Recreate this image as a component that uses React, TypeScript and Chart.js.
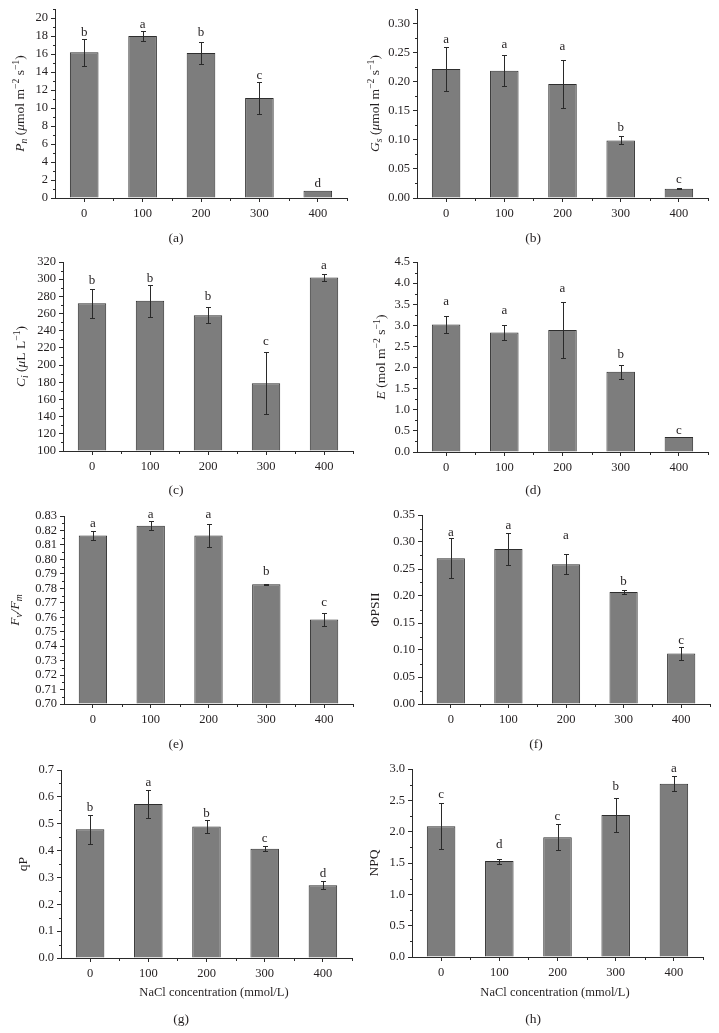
import { useEffect, useRef } from 'react';
import { Chart, registerables } from 'chart.js';

Chart.register(...registerables);

// ---------------- data ----------------
const categories = ['0', '100', '200', '300', '400'];

const pnValues = [16.2, 18.0, 16.1, 11.1, 0.8];
const pnErrors = [1.5, 0.55, 1.2, 1.8, 0];
const pnLetters = ['b', 'a', 'b', 'c', 'd'];
const pnLetterY = [18.0, 18.85, 18.0, 13.2, 1.2];
const pnTicks = [0, 2, 4, 6, 8, 10, 12, 14, 16, 18, 20];

const gsValues = [0.222, 0.219, 0.196, 0.099, 0.016];
const gsErrors = [0.038, 0.027, 0.042, 0.007, 0.001];
const gsLetters = ['a', 'a', 'a', 'b', 'c'];
const gsLetterY = [0.267, 0.258, 0.254, 0.1157, 0.0252];
const gsTicks = [0, 0.05, 0.1, 0.15, 0.2, 0.25, 0.3];

const ciValues = [272, 275, 258, 179, 302];
const ciErrors = [17, 18.5, 9.5, 36, 4.3];
const ciLetters = ['b', 'b', 'b', 'c', 'a'];
const ciLetterY = [294, 297, 276, 223, 312];
const ciTicks = [100, 120, 140, 160, 180, 200, 220, 240, 260, 280, 300, 320];

const eValues = [3.02, 2.83, 2.89, 1.9, 0.355];
const eErrors = [0.2, 0.17, 0.66, 0.17, 0];
const eLetters = ['a', 'a', 'a', 'b', 'c'];
const eLetterY = [3.47, 3.28, 3.79, 2.22, 0.42];
const eTicks = [0, 0.5, 1.0, 1.5, 2.0, 2.5, 3.0, 3.5, 4.0, 4.5];

const fvfmValues = [0.8165, 0.8232, 0.8165, 0.7828, 0.7585];
const fvfmErrors = [0.003, 0.003, 0.008, 0.0005, 0.0045];
const fvfmLetters = ['a', 'a', 'a', 'b', 'c'];
const fvfmLetterY = [0.8227, 0.8289, 0.8289, 0.789, 0.7677];
const fvfmTicks = [0.7, 0.71, 0.72, 0.73, 0.74, 0.75, 0.76, 0.77, 0.78, 0.79, 0.8, 0.81, 0.82, 0.83];

const phiValues = [0.27, 0.287, 0.259, 0.2074, 0.0937];
const phiErrors = [0.037, 0.03, 0.019, 0.004, 0.0125];
const phiLetters = ['a', 'a', 'a', 'b', 'c'];
const phiLetterY = [0.3117, 0.324, 0.3055, 0.221, 0.111];
const phiTicks = [0, 0.05, 0.1, 0.15, 0.2, 0.25, 0.3, 0.35];

const qpValues = [0.479, 0.573, 0.49, 0.407, 0.271];
const qpErrors = [0.053, 0.053, 0.023, 0.01, 0.015];
const qpLetters = ['b', 'a', 'b', 'c', 'd'];
const qpLetterY = [0.548, 0.6396, 0.526, 0.433, 0.3007];
const qpTicks = [0, 0.1, 0.2, 0.3, 0.4, 0.5, 0.6, 0.7];

const npqValues = [2.086, 1.53, 1.912, 2.267, 2.765];
const npqErrors = [0.37, 0.04, 0.21, 0.265, 0.12];
const npqLetters = ['c', 'd', 'c', 'b', 'a'];
const npqLetterY = [2.536, 1.732, 2.193, 2.659, 2.95];
const npqTicks = [0, 0.5, 1.0, 1.5, 2.0, 2.5, 3.0];

const xAxisTitle = 'NaCl concentration (mmol/L)';

// ---------------- styles ----------------
const FONT = '"Liberation Serif", "Times New Roman", serif';
const TEXT = '#231f20';
const AXIS = '#2a2a2a';
const BAR_FILL = '#7d7d7d';
const BAR_EDGE = '#2e2e2e';
const ERR = '#2a2a2a';

type Seg = { t: string; i?: boolean; b?: boolean; p?: boolean };

type PanelSpec = {
  values: number[];
  errors: number[];
  letters: string[];
  letterY: number[];
  ticks: number[];
  min: number;
  max: number;
  decimals: number;
  yTitle: Seg[];
  label: string;
  col: number;
  area: [number, number, number, number];
  yTitleX: number;
  labelPos: [number, number];
  xTitlePos?: [number, number];
};

const panels: PanelSpec[] = [
  {
    values: pnValues, errors: pnErrors, letters: pnLetters, letterY: pnLetterY, ticks: pnTicks,
    min: 0, max: 21, decimals: 0,
    yTitle: [{ t: 'P', i: true }, { t: 'n', i: true, b: true }, { t: ' (' }, { t: 'μ', i: true }, { t: 'mol m' }, { t: '−2', p: true }, { t: ' s' }, { t: '−1', p: true }, { t: ')' }],
    label: '(a)', col: 0, area: [55, 9, 347, 198], yTitleX: 20, labelPos: [176, 238],
  },
  {
    values: gsValues, errors: gsErrors, letters: gsLetters, letterY: gsLetterY, ticks: gsTicks,
    min: 0, max: 0.325, decimals: 2,
    yTitle: [{ t: 'G', i: true }, { t: 's', i: true, b: true }, { t: ' (' }, { t: 'μ', i: true }, { t: 'mol m' }, { t: '−2', p: true }, { t: ' s' }, { t: '−1', p: true }, { t: ')' }],
    label: '(b)', col: 1, area: [417, 9, 708, 198], yTitleX: 375, labelPos: [533, 238],
  },
  {
    values: ciValues, errors: ciErrors, letters: ciLetters, letterY: ciLetterY, ticks: ciTicks,
    min: 100, max: 320, decimals: 0,
    yTitle: [{ t: 'C', i: true }, { t: 'i', i: true, b: true }, { t: ' (' }, { t: 'μ', i: true }, { t: 'L L' }, { t: '−1', p: true }, { t: ')' }],
    label: '(c)', col: 0, area: [63, 262, 353, 451], yTitleX: 21, labelPos: [176, 490],
  },
  {
    values: eValues, errors: eErrors, letters: eLetters, letterY: eLetterY, ticks: eTicks,
    min: 0, max: 4.5, decimals: 1,
    yTitle: [{ t: 'E', i: true }, { t: ' (mol m' }, { t: '−2', p: true }, { t: ' s' }, { t: '−1', p: true }, { t: ')' }],
    label: '(d)', col: 1, area: [417, 262, 708, 452], yTitleX: 381, labelPos: [533, 490],
  },
  {
    values: fvfmValues, errors: fvfmErrors, letters: fvfmLetters, letterY: fvfmLetterY, ticks: fvfmTicks,
    min: 0.7, max: 0.83, decimals: 2,
    yTitle: [{ t: 'F', i: true }, { t: 'v', i: true, b: true }, { t: '/', i: true }, { t: 'F', i: true }, { t: 'm', i: true, b: true }],
    label: '(e)', col: 0, area: [64, 516, 353, 704], yTitleX: 15, labelPos: [176, 744],
  },
  {
    values: phiValues, errors: phiErrors, letters: phiLetters, letterY: phiLetterY, ticks: phiTicks,
    min: 0, max: 0.35, decimals: 2,
    yTitle: [{ t: 'ΦPSII' }],
    label: '(f)', col: 1, area: [422, 515, 710, 704], yTitleX: 375, labelPos: [536, 744],
  },
  {
    values: qpValues, errors: qpErrors, letters: qpLetters, letterY: qpLetterY, ticks: qpTicks,
    min: 0, max: 0.7, decimals: 1,
    yTitle: [{ t: 'qP' }],
    label: '(g)', col: 0, area: [61, 770, 352, 958], yTitleX: 23, labelPos: [181, 1019], xTitlePos: [214, 993],
  },
  {
    values: npqValues, errors: npqErrors, letters: npqLetters, letterY: npqLetterY, ticks: npqTicks,
    min: 0, max: 3.0, decimals: 1,
    yTitle: [{ t: 'NPQ' }],
    label: '(h)', col: 1, area: [412, 769, 703, 957], yTitleX: 374, labelPos: [533, 1019], xTitlePos: [555, 993],
  },
];

function drawRich(ctx: CanvasRenderingContext2D, segs: Seg[], cx: number, cy: number, size: number) {
  const fontFor = (s: Seg) => `${s.i ? 'italic ' : ''}${s.b || s.p ? size * 0.72 : size}px ${FONT}`;
  let total = 0;
  const widths = segs.map((s) => {
    ctx.font = fontFor(s);
    const w = ctx.measureText(s.t).width;
    total += w;
    return w;
  });
  ctx.save();
  ctx.translate(cx, cy);
  ctx.rotate(-Math.PI / 2);
  ctx.textAlign = 'left';
  ctx.textBaseline = 'alphabetic';
  ctx.fillStyle = TEXT;
  let x = -total / 2;
  const base = size * 0.33;
  segs.forEach((s, k) => {
    ctx.font = fontFor(s);
    const dy = s.p ? -size * 0.4 : s.b ? size * 0.22 : 0;
    ctx.fillText(s.t, x, base + dy);
    x += widths[k];
  });
  ctx.restore();
}

function Panel({ spec }: { spec: PanelSpec }) {
  const ref = useRef<HTMLCanvasElement | null>(null);
  const boxX = spec.col === 0 ? 0 : 360;
  const boxW = spec.col === 0 ? 360 : 359;
  const [aL, aT, aR, aB] = spec.area;
  const boxY = aT - 20;
  const boxH = spec.labelPos[1] + 14 - boxY;

  useEffect(() => {
    if (!ref.current) return;
    const annot = {
      id: 'annot' + spec.label,
      afterDatasetsDraw(chart: any) {
        const ctx: CanvasRenderingContext2D = chart.ctx;
        const xs = chart.scales.x;
        const ys = chart.scales.y;
        ctx.save();
        // error bars
        ctx.strokeStyle = ERR;
        ctx.lineWidth = 1;
        spec.values.forEach((v, i) => {
          const e = spec.errors[i];
          if (!e) return;
          const px = Math.round(xs.getPixelForValue(i)) + 0.5;
          const yt = Math.round(ys.getPixelForValue(v + e)) + 0.5;
          const yb = Math.round(ys.getPixelForValue(v - e)) + 0.5;
          ctx.beginPath();
          ctx.moveTo(px, yt);
          ctx.lineTo(px, yb);
          ctx.moveTo(px - 2.5, yt);
          ctx.lineTo(px + 2.5, yt);
          ctx.moveTo(px - 2.5, yb);
          ctx.lineTo(px + 2.5, yb);
          ctx.stroke();
        });
        // letters
        ctx.fillStyle = TEXT;
        ctx.font = `13px ${FONT}`;
        ctx.textAlign = 'center';
        ctx.textBaseline = 'alphabetic';
        spec.letters.forEach((l, i) => {
          ctx.fillText(l, xs.getPixelForValue(i), ys.getPixelForValue(spec.letterY[i]));
        });
        // minor ticks
        ctx.strokeStyle = AXIS;
        ctx.beginPath();
        const left = Math.round(chart.chartArea.left) + 0.5;
        for (let k = 0; k < spec.ticks.length; k++) {
          const a = spec.ticks[k];
          const b = k + 1 < spec.ticks.length ? spec.ticks[k + 1] : a + (spec.ticks[1] - spec.ticks[0]);
          const mid = (a + b) / 2;
          if (mid > spec.max + 1e-9) continue;
          const py = Math.round(ys.getPixelForValue(mid)) + 0.5;
          ctx.moveTo(left - 2.5, py);
          ctx.lineTo(left, py);
        }
        const bottom = Math.round(chart.chartArea.bottom) + 0.5;
        const cw = (chart.chartArea.right - chart.chartArea.left) / categories.length;
        for (let k = 1; k <= categories.length; k++) {
          const px = Math.round(chart.chartArea.left + k * cw) + 0.5;
          ctx.moveTo(px, bottom);
          ctx.lineTo(px, bottom + 2.5);
        }
        ctx.stroke();
        // y title
        drawRich(ctx, spec.yTitle, spec.yTitleX - boxX, (aT + aB) / 2 - boxY, 13.5);
        // panel label
        ctx.fillStyle = TEXT;
        ctx.font = `13.5px ${FONT}`;
        ctx.textAlign = 'center';
        ctx.textBaseline = 'middle';
        ctx.fillText(spec.label, spec.labelPos[0] - boxX, spec.labelPos[1] - boxY);
        if (spec.xTitlePos) {
          ctx.font = `12.5px ${FONT}`;
          ctx.fillText(xAxisTitle, spec.xTitlePos[0] - boxX, spec.xTitlePos[1] - boxY);
        }
        ctx.restore();
      },
    };

    const chart = new Chart(ref.current, {
      type: 'bar',
      data: {
        labels: categories,
        datasets: [
          {
            data: spec.values,
            base: spec.min,
            backgroundColor: BAR_FILL,
            borderColor: BAR_EDGE,
            borderWidth: 1,
            barPercentage: 1,
            categoryPercentage: 0.49,
          } as any,
        ],
      },
      options: {
        animation: false,
        responsive: false,
        maintainAspectRatio: false,
        devicePixelRatio: 1,
        events: [],
        layout: {
          padding: { left: 0, top: aT - boxY, right: boxX + boxW - aR, bottom: 0 },
        },
        plugins: {
          legend: { display: false },
          tooltip: { enabled: false },
          title: { display: false },
        },
        scales: {
          x: {
            type: 'category',
            offset: true,
            grid: { display: true, offset: false, drawOnChartArea: false, drawTicks: true, tickLength: 4, color: AXIS, lineWidth: 1 },
            border: { display: true, color: AXIS, width: 1 },
            ticks: { color: TEXT, font: { family: FONT, size: 12.5 }, padding: 4, maxRotation: 0, autoSkip: false },
            afterFit: (s: any) => {
              s.height = boxY + boxH - aB;
            },
          },
          y: {
            type: 'linear',
            min: spec.min,
            max: spec.max,
            grid: { display: true, drawOnChartArea: false, drawTicks: true, tickLength: 4, color: AXIS, lineWidth: 1 },
            border: { display: true, color: AXIS, width: 1 },
            ticks: {
              color: TEXT,
              font: { family: FONT, size: 12.5 },
              padding: 3,
              autoSkip: false,
              callback: (v: any) => Number(v).toFixed(spec.decimals),
            },
            afterBuildTicks: (s: any) => {
              s.ticks = spec.ticks.map((v) => ({ value: v }));
            },
            afterFit: (s: any) => {
              s.width = aL - boxX;
            },
          },
        },
      } as any,
      plugins: [annot],
    });
    return () => chart.destroy();
  }, []);

  return (
    <canvas
      ref={ref}
      width={boxW}
      height={boxH}
      style={{ position: 'absolute', left: boxX, top: boxY, width: boxW, height: boxH }}
    />
  );
}

export default function App() {
  return (
    <div
      style={{
        position: 'absolute',
        left: 0,
        top: 0,
        width: 719,
        height: 1033,
        overflow: 'hidden',
        background: '#ffffff',
      }}
    >
      {panels.map((p) => (
        <Panel key={p.label} spec={p} />
      ))}
    </div>
  );
}
